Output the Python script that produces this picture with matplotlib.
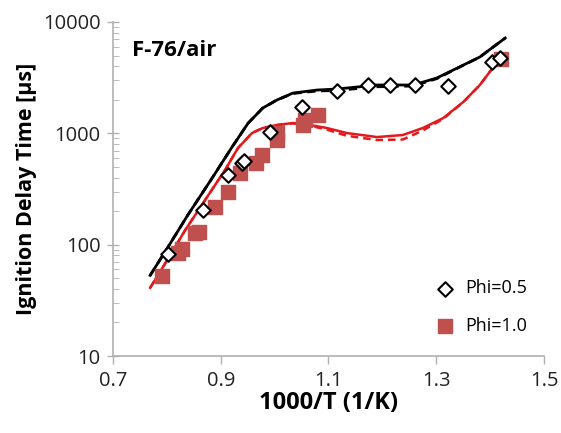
import numpy as np
from matplotlib import pyplot as plt

plt.rcParams['font.family'] = ['Open Sans', 'DejaVu Sans']

# experimental data, Phi=0.5 (open diamonds)
x_phi05 = [0.802, 0.867, 0.913, 0.939, 0.943, 0.991, 1.051, 1.116, 1.173,
           1.214, 1.261, 1.322, 1.403, 1.418]
y_phi05 = [82, 205, 422, 541, 564, 1028, 1722, 2399, 2717, 2717, 2717, 2660,
           4373, 4750]

# experimental data, Phi=1.0 (filled squares)
x_phi10 = [0.791, 0.821, 0.828, 0.852, 0.860, 0.889, 0.913, 0.936, 0.965,
           0.977, 1.004, 1.004, 1.053, 1.056, 1.080, 1.420]
y_phi10 = [52, 84, 91, 127, 130, 218, 297, 440, 541, 638, 871, 1006, 1188,
           1318, 1459, 4700]

# model curves, Phi=0.5
x_m05 = [0.769, 0.802, 0.839, 0.884, 0.921, 0.951, 0.978, 1.004, 1.034, 1.079,
         1.116, 1.190, 1.257, 1.301, 1.339, 1.381, 1.428]
y_m05 = [53, 95, 185, 396, 753, 1238, 1687, 1990, 2300, 2449, 2500, 2717,
         2717, 3140, 3860, 4850, 7180]
y_m05_dash = [53, 95, 185, 396, 753, 1238, 1687, 1990, 2280, 2400, 2430, 2620,
              2660, 3100, 3840, 4850, 7180]

# model curves, Phi=1.0
x_m10 = [0.769, 0.797, 0.834, 0.871, 0.908, 0.932, 0.958, 0.978, 1.004, 1.034,
         1.066, 1.097, 1.134, 1.190, 1.238, 1.275, 1.313, 1.350, 1.381, 1.413,
         1.428]
y_m10 = [41, 68, 135, 252, 468, 738, 1006, 1116, 1188, 1238, 1188, 1116, 1006,
         926, 966, 1116, 1372, 1910, 2717, 4375, 5055]
y_m10_dash = [41, 68, 135, 252, 468, 738, 1006, 1116, 1188, 1230, 1170, 1080,
              950, 871, 880, 1060, 1350, 1900, 2717, 4375, 5055]

red_line = '#e3191c'
red_sq = '#c0504d'

fig = plt.figure(figsize=(5.61, 4.33), dpi=100)
ax = fig.add_axes([0.2014, 0.1778, 0.7683, 0.7714])

ax.plot(x_m05, y_m05, color='black', lw=2)
ax.plot(x_m05, y_m05_dash, color='black', lw=2, ls=(0, (3, 2)))
ax.plot(x_m10, y_m10, color=red_line, lw=1.8)
ax.plot(x_m10, y_m10_dash, color=red_line, lw=1.8, ls=(0, (3, 2)))

ax.scatter(x_phi10, y_phi10, marker='s', s=90, color=red_sq, zorder=3,
           label='Phi=1.0')
ax.scatter(x_phi05, y_phi05, marker='D', s=55, facecolor='white',
           edgecolor='black', linewidth=1.5, zorder=4, label='Phi=0.5')

ax.set_yscale('log')
ax.set_xlim(0.7, 1.5)
ax.set_ylim(10, 10000)
ax.set_xticks([0.7, 0.9, 1.1, 1.3, 1.5])
ax.set_xticklabels(['0.7', '0.9', '1.1', '1.3', '1.5'])
ax.set_yticks([10, 100, 1000, 10000])
ax.set_yticklabels(['10', '100', '1000', '10000'])

for s in ['top', 'right']:
    ax.spines[s].set_visible(False)
for s in ['left', 'bottom']:
    ax.spines[s].set_color('#b0b0b0')
    ax.spines[s].set_linewidth(1.2)

ax.tick_params(axis='both', which='major', labelsize=14.5, color='#b0b0b0',
               length=6, width=1, pad=5, labelcolor='#222222')
ax.tick_params(axis='y', which='major', direction='inout', length=8)
ax.tick_params(axis='y', which='minor', direction='in', color='#b0b0b0',
               length=4)
ax.tick_params(axis='x', which='minor', bottom=False)

ax.set_xlabel('1000/T (1/K)', fontsize=17, fontweight='bold', labelpad=0)
ax.set_ylabel('Ignition Delay Time [μs]', fontsize=15.5, fontweight='bold',
              labelpad=4)

ax.text(0.735, 5600, 'F-76/air', fontsize=16, fontweight='bold', va='center')

handles, labels = ax.get_legend_handles_labels()
ax.legend(handles[::-1], labels[::-1], loc='lower right', frameon=False,
          fontsize=13, handletextpad=0.1, labelspacing=1.1,
          bbox_to_anchor=(0.985, 0.03), borderaxespad=0.2)

fig.savefig('out.png', dpi=100)
